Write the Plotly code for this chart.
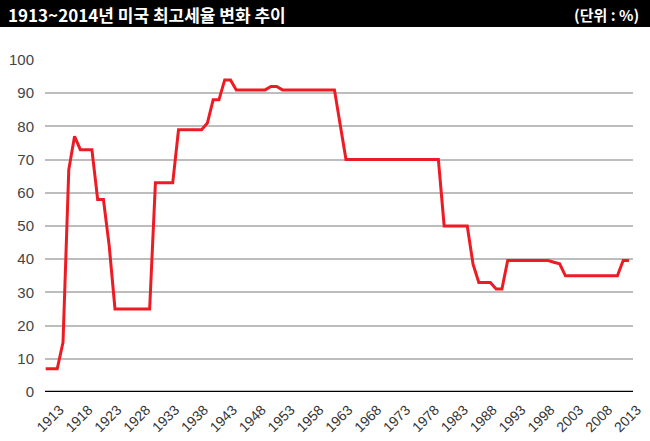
import plotly.graph_objects as go

# 연도별 미국 최고세율 (%)
years = list(range(1913, 2015))
top_rate = [
    7, 7, 7, 15, 67, 77, 73, 73, 73, 58,            # 1913-1922
    58, 44, 25, 25, 25, 25, 25, 25, 25, 63,         # 1923-1932
    63, 63, 63, 79, 79, 79, 79, 79, 81, 88,         # 1933-1942
    88, 94, 94, 91, 91, 91, 91, 91, 91, 92,         # 1943-1952
    92, 91, 91, 91, 91, 91, 91, 91, 91, 91,         # 1953-1962
    91, 80.5, 70, 70, 70, 70, 70, 70, 70, 70,       # 1963-1972
    70, 70, 70, 70, 70, 70, 70, 70, 70, 50,         # 1973-1982
    50, 50, 50, 50, 38.5, 33, 33, 33, 31, 31,       # 1983-1992
    39.6, 39.6, 39.6, 39.6, 39.6, 39.6, 39.6, 39.6, 39.1, 38.6,  # 1993-2002
    35, 35, 35, 35, 35, 35, 35, 35, 35, 35,         # 2003-2012
    39.6, 39.6,                                     # 2013-2014
]
tick_years = list(range(1913, 2014, 5))
y_ticks = list(range(0, 101, 10))

title_text = "1913~2014년 미국 최고세율 변화 추이"
unit_text = "(단위 : %)"

W, H = 650, 441
L, R, T, B = 45, 17, 59, 49
pw, ph = W - L - R, H - T - B


def px_x(x):
    return (x - L) / pw


def px_y(y):
    return (H - B - y) / ph


fig = go.Figure()
fig.add_trace(go.Scatter(
    x=years, y=top_rate, mode="lines",
    line=dict(color="#ED1C24", width=3),
    hoverinfo="x+y", showlegend=False,
))

fig.update_layout(
    width=W, height=H,
    margin=dict(l=L, r=R, t=T, b=B, autoexpand=False),
    paper_bgcolor="white", plot_bgcolor="white",
    font=dict(family="Liberation Sans, Arial", color="#333333"),
    xaxis=dict(
        range=[1912.88, 2014.7], tickvals=tick_years,
        ticktext=[str(y) for y in tick_years],
        tickangle=-45, tickfont=dict(size=14, color="#333333"),
        showgrid=False, zeroline=False, showline=False,
        ticks="", ticklabelshift=14, ticklabelstandoff=6,
        automargin=False,
    ),
    yaxis=dict(
        range=[0, 100.3], tickvals=y_ticks,
        tickfont=dict(size=15, color="#444444"),
        showgrid=True, gridcolor="#BDBDBD", gridwidth=1.5,
        zeroline=False, showline=False, ticks="",
        ticklabelstandoff=10, automargin=False,
    ),
    shapes=[
        dict(type="rect", xref="paper", yref="paper",
             x0=px_x(0), x1=px_x(W), y0=px_y(27), y1=px_y(0),
             fillcolor="black", line=dict(width=0), layer="below"),
        dict(type="line", xref="paper", yref="y",
             x0=0, x1=1, y0=0, y1=0,
             line=dict(color="black", width=2.5)),
    ],
    annotations=[
        dict(text=f"<b>{title_text}</b>", xref="paper", yref="paper",
             x=px_x(6), y=px_y(14), xanchor="left", yanchor="middle",
             showarrow=False,
             font=dict(family="Noto Sans CJK KR", size=17, color="white")),
        dict(text=f"<b>{unit_text}</b>", xref="paper", yref="paper",
             x=px_x(641), y=px_y(14), xanchor="right", yanchor="middle",
             showarrow=False,
             font=dict(family="Noto Sans CJK KR", size=15, color="white")),
    ],
)

# 페이지 기본 여백 제거
fig.write_html("out.html", config={"displayModeBar": False},
               post_script="document.body.style.margin='0';")
